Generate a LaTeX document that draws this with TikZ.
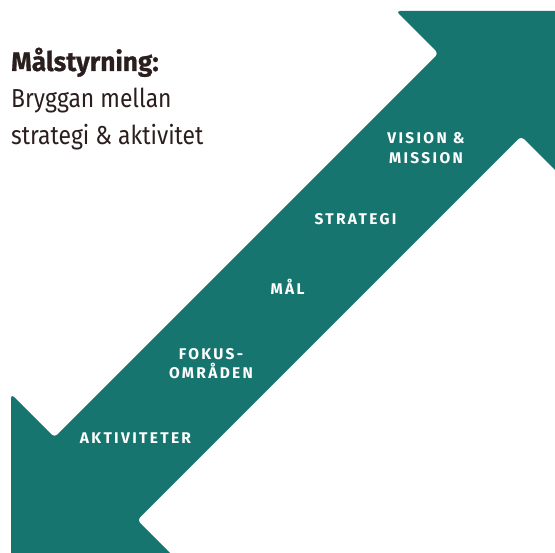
\documentclass[tikz,border=0pt]{standalone}
\usepackage{fontspec}
\setmainfont{Fira Sans}
\newfontfamily\bodyfont[FakeStretch=0.88]{Fira Sans}
\newfontfamily\titlefont[FakeStretch=0.97,BoldFeatures={FakeBold=0.6}]{Fira Sans}
\newfontfamily\labfont[LetterSpace=15]{Fira Sans}
\definecolor{arrowteal}{HTML}{17756F}
\definecolor{ink}{HTML}{2B1E1E}
\begin{document}
\begin{tikzpicture}[x=1pt,y=-1pt,
  titletext/.style={text=ink, inner sep=0pt, anchor=base west, font=\titlefont\bfseries\fontsize{27}{32}\selectfont},
  bodytext/.style={text=ink, inner sep=0pt, anchor=base west, font=\bodyfont\fontsize{26}{31}\selectfont},
  lab/.style={text=white, inner sep=0pt, anchor=base, align=center, font=\labfont\bfseries\fontsize{15.5}{20}\selectfont}]
\useasboundingbox (0,0) rectangle (555,553);
\clip (0,0) rectangle (555,553);
\fill[arrowteal, rounded corners=4pt] (564.6,11) -- (396,11) -- (438.5,53.5) -- (54.5,437.5) -- (11,394) -- (11,562.6) -- (179.6,562.6) -- (137.15,520.15) -- (521.15,136.15) -- (564.6,179.6) -- cycle;
\node[titletext] (title) at (11,71) {Målstyrning:};
\node[bodytext] (line1) at (11,108) {Bryggan mellan};
\node[bodytext] (line2) at (11,144.5) {strategi \& aktivitet};
\node[lab] (vision) at (426,164) {VISION \&\\MISSION};
\node[lab] (strategi) at (355.5,225) {STRATEGI};
\node[lab] (mal) at (287.5,294.3) {MÅL};
\node[lab] (fokus) at (211,378.3) {FOKUS-\\[-1pt]OMRÅDEN};
\node[lab] (akt) at (135.5,444) {AKTIVITETER};
\end{tikzpicture}
\end{document}
